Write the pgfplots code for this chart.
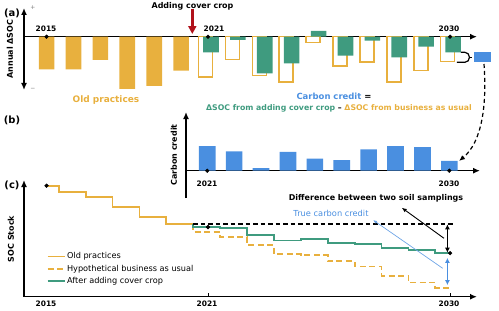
\documentclass[border=0pt]{standalone}
\usepackage{pgfplots}
\pgfplotsset{compat=1.18}
\usepackage{fontspec}
\setmainfont{DejaVu Sans}
\usetikzlibrary{arrows.meta}

\definecolor{oldc}{HTML}{E8B03E}
\definecolor{ccg}{HTML}{3F9B7F}
\definecolor{credb}{HTML}{4A8FE0}
\definecolor{arrowred}{HTML}{B0121B}

\newcommand{\lab}[1]{\fontsize{8}{9.6}\selectfont\bfseries #1}

\begin{document}
\begin{tikzpicture}[x=1bp,y=1bp]
\useasboundingbox (0,0) rectangle (499,310);

\pgfplotsset{
  panel/.style={scale only axis, clip=false, xtick=\empty, ytick=\empty,
    axis line style={line width=1.4bp}},
  dot/.style={only marks, mark=*, mark size=1.9bp, black, forget plot},
}

% ---------------- (a) annual change in SOC ----------------
\begin{axis}[panel, at={(24bp,220bp)}, anchor=south west, width=453bp, height=82bp,
  xmin=2014.16, xmax=2031.0, ymin=-5.33, ymax=2.87,
  axis x line=middle, axis y line=left,
  x axis line style={-{Latex[length=7bp,width=6bp]}},
  y axis line style={{Latex[length=7bp,width=6bp]}-{Latex[length=7bp,width=6bp]}}]
% old practices
\addplot[ybar, bar width=0.58, bar shift=0, fill=oldc, draw=none]
  coordinates {(2015,-3.26) (2016,-3.26) (2017,-2.33) (2018,-5.23) (2019,-4.93) (2020,-3.40)};
% hypothetical business as usual (outline)
\addplot[ybar, bar width=0.52, bar shift=-0.09, fill=none, draw=oldc, line width=1.6bp]
  coordinates {(2021,-4.03) (2022,-2.27) (2023,-3.87) (2024,-4.54) (2025,-0.60)
               (2026,-2.94) (2027,-2.54) (2028,-4.54) (2029,-3.37) (2030,-2.50)};
% after adding cover crop
\addplot[ybar, bar width=0.58, bar shift=0.11, fill=ccg, draw=none]
  coordinates {(2021,-1.56) (2022,-0.33) (2023,-3.66) (2024,-2.66) (2025,0.57)
               (2026,-1.90) (2027,-0.40) (2028,-2.06) (2029,-1.00) (2030,-1.56)};
% 2030 carbon credit pulled out
\addplot[fill=credb, draw=none] coordinates
  {(2030.90,-1.56) (2031.51,-1.56) (2031.51,-2.56) (2030.90,-2.56)} -- cycle;
\addplot[dot] coordinates {(2015,0) (2021,0) (2030,0)};
% brace joining the two 2030 bars
\draw[line width=1.2bp] (axis cs:2030.40,-1.56) -- (axis cs:2030.55,-1.56)
  to[out=0,in=90] (axis cs:2030.72,-2.06) to[out=-90,in=0] (axis cs:2030.55,-2.56)
  -- (axis cs:2030.25,-2.56);
\draw[line width=1.2bp] (axis cs:2030.72,-2.06) -- (axis cs:2030.82,-2.06);
\end{axis}

% ---------------- (b) carbon credit ----------------
\begin{axis}[panel, at={(186bp,112bp)}, anchor=south west, width=294bp, height=86bp,
  xmin=2020.21, xmax=2031.14, ymin=-2.81, ymax=6.04,
  axis x line=middle, axis y line=left,
  x axis line style={-{Latex[length=7bp,width=6bp]}},
  y axis line style={-{Latex[length=7bp,width=6bp]}}]
\addplot[ybar, bar width=0.62, bar shift=0, fill=credb, draw=none]
  coordinates {(2021,2.54) (2022,2.00) (2023,0.27) (2024,1.94) (2025,1.23)
               (2026,1.10) (2027,2.20) (2028,2.54) (2029,2.43) (2030,1.00)};
\addplot[dot] coordinates {(2021,0) (2030,0)};
\end{axis}

% ---------------- (c) SOC stock ----------------
\begin{axis}[panel, at={(24bp,13.3bp)}, anchor=south west, width=453bp, height=116.7bp,
  xmin=2014.16, xmax=2031.0, ymin=-55.5, ymax=2.85,
  axis x line=bottom, axis y line=left,
  x axis line style={-{Latex[length=7bp,width=6bp]}},
  y axis line style={-{Latex[length=7bp,width=6bp]}},
  xtick={2021,2030}, xticklabels={}, tick align=inside, major tick length=4bp,
  tick style={black, line width=0.9bp},
  legend style={draw=none, fill=none, at={(0.043,0.41)}, anchor=north west,
    font=\fontsize{8.2}{10}\selectfont, row sep=1.5bp,
    nodes={inner sep=1.6bp}},
  legend image code/.code={\draw[#1] (0bp,0bp) -- (17bp,0bp);},
  legend cell align=left]
\addplot[const plot, oldc, line width=1.8bp] coordinates
  {(2015,0) (2015.45,-3.26) (2016.45,-5.59) (2017.45,-10.82) (2018.45,-15.75)
   (2019.45,-19.15) (2020.45,-19.15)};
\addlegendentry{Old practices}
\addplot[const plot, oldc, line width=1.8bp, dash pattern=on 6bp off 3.5bp] coordinates
  {(2020.45,-19.15) (2020.45,-23.25) (2021.45,-25.58) (2022.45,-29.51) (2023.45,-34.11)
   (2024.45,-34.77) (2025.45,-37.77) (2026.45,-40.37) (2027.45,-44.97) (2028.45,-48.40)
   (2029.45,-50.96) (2030,-50.96)};
\addlegendentry{Hypothetical business as usual}
\addplot[const plot, ccg, line width=1.8bp] coordinates
  {(2020.45,-19.15) (2020.45,-20.71) (2021.45,-21.04) (2022.45,-24.70) (2023.45,-27.36)
   (2024.45,-26.79) (2025.45,-28.69) (2026.45,-29.09) (2027.45,-31.15) (2028.45,-32.15)
   (2029.45,-33.71) (2030,-33.71)};
\addlegendentry{After adding cover crop}
\addplot[black, line width=1.3bp, dash pattern=on 4.5bp off 3bp, forget plot]
  coordinates {(2020.45,-19.15) (2030.15,-19.15)};
\addplot[dot] coordinates {(2015,0) (2021,-20.71) (2030,-33.71)};
% the two differences at 2030
\draw[black, line width=1.4bp, {Latex[length=5bp,width=5bp]}-{Latex[length=5bp,width=5bp]}]
  (axis cs:2029.90,-19.3) -- (axis cs:2029.90,-33.5);
\draw[credb, line width=1.4bp, {Latex[length=5bp,width=5bp]}-{Latex[length=5bp,width=5bp]}]
  (axis cs:2029.90,-36.1) -- (axis cs:2029.90,-49.7);
\end{axis}

% ---------------- annotations ----------------
% panel letters and axis names
\node at (12,297) {\fontsize{10}{12}\selectfont\bfseries (a)};
\node at (12,190) {\fontsize{10}{12}\selectfont\bfseries (b)};
\node at (12,125) {\fontsize{10}{12}\selectfont\bfseries (c)};
\node[rotate=90] at (10,261) {\lab{Annual ΔSOC}};
\node[rotate=90] at (174,155) {\lab{Carbon credit}};
\node[rotate=90] at (11,71) {\lab{SOC Stock}};
\node[gray] at (33,302) {\fontsize{6}{7}\selectfont +};
\node[gray] at (33,221) {\fontsize{6}{7}\selectfont −};

% year labels
\node at (46,281) {\fontsize{7.5}{9}\selectfont\bfseries 2015};
\node at (214,281) {\fontsize{7.5}{9}\selectfont\bfseries 2021};
\node at (449,281) {\fontsize{7.5}{9}\selectfont\bfseries 2030};
\node at (207,126) {\fontsize{7.5}{9}\selectfont\bfseries 2021};
\node at (449,126) {\fontsize{7.5}{9}\selectfont\bfseries 2030};
\node at (46,6) {\fontsize{7.5}{9}\selectfont\bfseries 2015};
\node at (207,6) {\fontsize{7.5}{9}\selectfont\bfseries 2021};
\node at (449,6) {\fontsize{7.5}{9}\selectfont\bfseries 2030};

% practice change
\node at (192.5,303.5) {\lab{Adding cover crop}};
\draw[arrowred, line width=2.6bp, -{Triangle[length=8bp,width=8bp]}] (192.3,301) -- (192.3,276);
\node[text=oldc] at (106,210) {\fontsize{9}{11}\selectfont\bfseries Old practices};

% carbon credit definition
\node at (334,214) {\fontsize{8.5}{10}\selectfont\bfseries\textcolor{credb}{Carbon credit} =};
\node at (339,202) {\fontsize{7.8}{9}\selectfont\bfseries
  \textcolor{ccg}{ΔSOC from adding cover crop} – \textcolor{oldc}{ΔSOC from business as usual}};
\draw[black, line width=1.2bp, dash pattern=on 4bp off 3bp, -{Latex[length=6bp,width=5bp]}]
  (484,246) .. controls (487,205) and (482,168) .. (459,149);

% panel (c) callouts
\node at (376,112) {\lab{Difference between two soil samplings}};
\node[text=credb] at (331,97) {\fontsize{8.3}{10}\selectfont True carbon credit};
\draw[black, line width=0.9bp, -{Latex[length=5bp,width=4bp]}] (444,71.7) -- (401.7,102.3);
\draw[credb!80, line width=0.7bp, -{Latex[length=4bp,width=3bp]}] (442.7,41.7) -- (373,90);
\end{tikzpicture}
\end{document}
